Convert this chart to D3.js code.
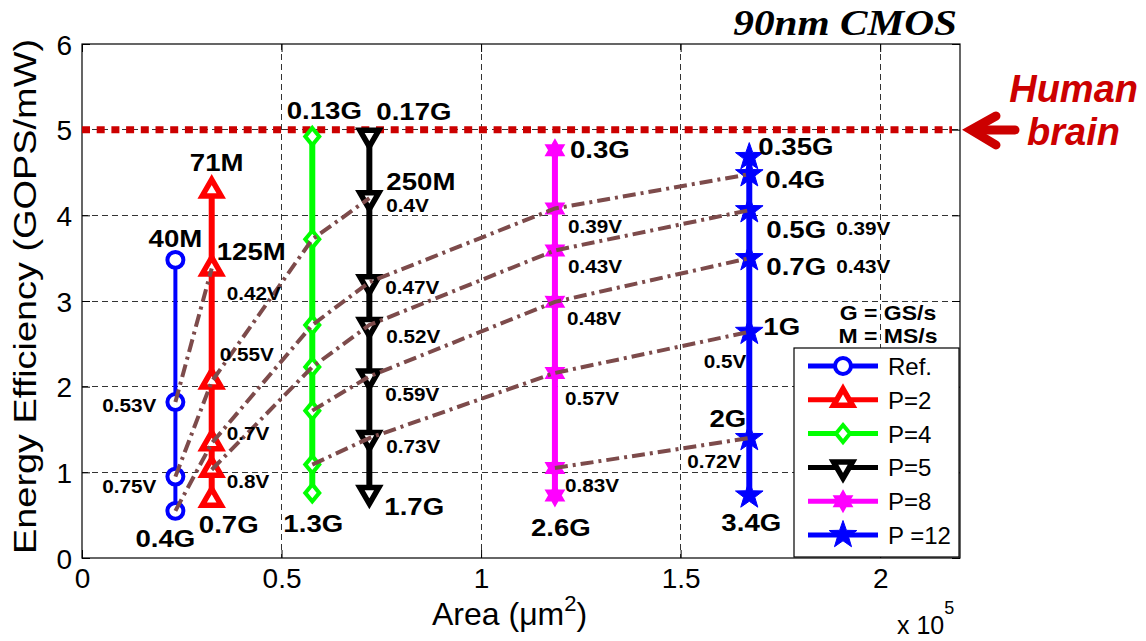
<!DOCTYPE html>
<html>
<head>
<meta charset="utf-8">
<script src="https://cdn.jsdelivr.net/npm/d3@7"></script>
<style>
  html, body { margin: 0; padding: 0; background: #fff; }
  svg { display: block; font-family: "Liberation Sans", Arial, Helvetica, sans-serif; }
</style>
</head>
<body>
<svg id="chart" width="1146" height="641"></svg>
<script>
// ---- data -------------------------------------------------------------
// Area of each design (um^2) and its energy-efficiency points (GOPS/mW)
const seriesNames = ["Ref.", "P=2", "P=4", "P=5", "P=8", "P =12"];
const seriesArea  = [23400, 32500, 57700, 72000, 118500, 167200];
const refEff  = [3.48, 1.82, 0.95, 0.55];
const p2Eff   = [4.29, 3.38, 2.06, 1.34, 1.03, 0.68];
const p4Eff   = [4.92, 3.72, 2.72, 2.23, 1.72, 1.09, 0.76];
const p5Eff   = [4.93, 4.20, 3.22, 2.72, 2.12, 1.40, 0.76];
const p8Eff   = [4.76, 4.08, 3.59, 2.99, 2.16, 1.05, 0.73];
const p12Eff  = [4.68, 4.48, 4.06, 3.50, 2.64, 1.40, 0.73];
const seriesEff = [refEff, p2Eff, p4Eff, p5Eff, p8Eff, p12Eff];

// Iso-voltage links: [series index, point index] pairs
const voltageLinks = [
  [[0,1],[1,1]],
  [[0,2],[1,2],[2,1],[3,1]],
  [[0,3],[1,3],[2,2],[3,2],[4,1],[5,1]],
  [[1,4],[2,3],[3,3],[4,2],[5,2]],
  [[2,4],[3,4],[4,3],[5,3]],
  [[2,5],[3,5],[4,4],[5,4]],
  [[4,5],[5,5]]
];

const humanBrainEff = 5;
const xTicks = [0, 0.5, 1, 1.5, 2];
const yTicks = [0, 1, 2, 3, 4, 5, 6];

// Throughput / supply-voltage annotations: [series, point, text]
const rateLabels = [
  [0,0,"40M"], [0,3,"0.4G"],
  [1,0,"71M"], [1,1,"125M"], [1,5,"0.7G"],
  [2,0,"0.13G"], [2,6,"1.3G"],
  [3,0,"0.17G"], [3,1,"250M"], [3,6,"1.7G"],
  [4,0,"0.3G"], [4,6,"2.6G"],
  [5,0,"0.35G"], [5,1,"0.4G"], [5,2,"0.5G"], [5,3,"0.7G"], [5,4,"1G"], [5,5,"2G"], [5,6,"3.4G"]
];
const voltLabels = [
  [0,1,"0.53V"], [0,2,"0.75V"],
  [1,1,"0.42V"], [1,2,"0.55V"], [1,3,"0.7V"], [1,4,"0.8V"],
  [3,1,"0.4V"], [3,2,"0.47V"], [3,3,"0.52V"], [3,4,"0.59V"], [3,5,"0.73V"],
  [4,1,"0.39V"], [4,2,"0.43V"], [4,3,"0.48V"], [4,4,"0.57V"], [4,5,"0.83V"],
  [5,2,"0.39V"], [5,3,"0.43V"], [5,4,"0.5V"], [5,5,"0.72V"]
];

// ---- layout -------------------------------------------------------------
// pixel offsets of each annotation from its point: [dx, dy, anchor]
const rateOffsets = [
  [0,-13,"middle"], [-10,36,"middle"],
  [5,-19,"middle"], [5,-8,"start"], [17,33,"middle"],
  [12,-18,"middle"], [1,39,"middle"],
  [7,-16,"start"], [17,-8,"start"], [15,22,"start"],
  [15,8,"start"], [6,41,"middle"],
  [9,-2,"start"], [16,14,"start"], [17,28,"start"], [17,17,"start"], [14,3,"start"], [-3,-11,"end"], [2,36,"middle"]
];
const voltOffsets = [
  [-19,10,"end"], [-19,16,"end"],
  [15,32,"start"], [8,-21,"start"], [15,-3,"start"], [15,18,"start"],
  [17,14,"start"], [16,12,"start"], [17,18,"start"], [16,25,"start"], [17,15,"start"],
  [13,25,"start"], [13,23,"start"], [12,23,"start"], [10,32,"start"], [10,24,"start"],
  [87,25,"start"], [87,15,"start"], [-3,36,"end"], [-8,30,"end"]
];

const plot = { left: 82, right: 960, top: 44, bottom: 558 };
const colors = ["#0000ff", "#ff0000", "#00ff00", "#000000", "#ff00ff", "#0000ff"];
const lineWidths = [4, 6, 6, 6, 6, 6];
const linkColor = "#7d4b4b";
const brainRed = "#cc0000";

const svg = d3.select("#chart");
const x = d3.scaleLinear().domain([0, 220000]).range([plot.left, plot.right]);
const y = d3.scaleLinear().domain([0, 6]).range([plot.bottom, plot.top]);

// ---- marker shapes --------------------------------------------------------
function starPath(n, R, r, rot) {
  const pts = [];
  for (let i = 0; i < 2 * n; i++) {
    const a = rot + i * Math.PI / n;
    const rad = i % 2 === 0 ? R : r;
    pts.push([rad * Math.sin(a), -rad * Math.cos(a)]);
  }
  return "M" + pts.map(p => p[0].toFixed(2) + "," + p[1].toFixed(2)).join("L") + "Z";
}
function triPath(s, down) {
  const h = s * Math.sqrt(3) / 2, k = down ? -1 : 1;
  return `M0,${-k * h * 2 / 3}L${s / 2},${k * h / 3}L${-s / 2},${k * h / 3}Z`;
}
const markers = [
  { d: d3.symbol(d3.symbolCircle, 200)(), fill: "#fff", sw: 4 },
  { d: triPath(19, false), fill: "#fff", sw: 5.5 },
  { d: "M0,-8.5L7,0L0,8.5L-7,0Z", fill: "#fff", sw: 4 },
  { d: triPath(19, true), fill: "#fff", sw: 5.5 },
  { d: starPath(6, 10.5, 6, 0), fill: null, sw: 1.5 },
  { d: starPath(5, 14.5, 5.8, 0), fill: null, sw: 1 }
];

// ---- grid -----------------------------------------------------------------
const grid = svg.append("g").attr("stroke", "#333").attr("stroke-width", 1)
  .attr("stroke-dasharray", "6,4").attr("shape-rendering", "crispEdges");
xTicks.filter(t => t > 0).forEach(t => {
  grid.append("line").attr("x1", x(t * 1e5)).attr("x2", x(t * 1e5))
    .attr("y1", plot.top).attr("y2", plot.bottom);
});
yTicks.filter(t => t > 0 && t < 6).forEach(t => {
  grid.append("line").attr("x1", plot.left).attr("x2", plot.right)
    .attr("y1", y(t)).attr("y2", y(t));
});

// ---- axes -----------------------------------------------------------------
const xAxis = d3.axisBottom(x).tickValues(xTicks.map(t => t * 1e5))
  .tickFormat(d => d3.format("")(d / 1e5)).tickSizeInner(-8).tickSizeOuter(0);
const yAxis = d3.axisLeft(y).tickValues(yTicks).tickFormat(d3.format("d"))
  .tickSizeInner(-8).tickSizeOuter(0);
const gx = svg.append("g").attr("transform", `translate(0,${plot.bottom})`).call(xAxis);
const gy = svg.append("g").attr("transform", `translate(${plot.left},0)`).call(yAxis);
[gx, gy].forEach(g => {
  g.select(".domain").remove();
  g.selectAll("text").attr("font-size", 28).attr("fill", "#000")
    .attr("font-family", "Liberation Sans, Arial, sans-serif");
  g.selectAll("line").attr("stroke", "#000");
});
gx.selectAll("text").attr("dy", null).attr("y", 30);
gy.selectAll("text").attr("dy", "0.36em").attr("x", -10);
// mirrored ticks on top and right
const gxTop = svg.append("g").attr("transform", `translate(0,${plot.top})`)
  .call(d3.axisTop(x).tickValues(xTicks.map(t => t * 1e5)).tickSizeInner(-8).tickSizeOuter(0).tickFormat(""));
const gyRight = svg.append("g").attr("transform", `translate(${plot.right},0)`)
  .call(d3.axisRight(y).tickValues(yTicks).tickSizeInner(-8).tickSizeOuter(0).tickFormat(""));
[gxTop, gyRight].forEach(g => { g.select(".domain").remove(); g.selectAll("line").attr("stroke", "#000"); });

svg.append("rect").attr("x", plot.left).attr("y", plot.top)
  .attr("width", plot.right - plot.left).attr("height", plot.bottom - plot.top)
  .attr("fill", "none").attr("stroke", "#000").attr("stroke-width", 1.2);

// axis titles
svg.append("text").attr("transform", `translate(36,${(38 + 555) / 2}) rotate(-90)`)
  .attr("text-anchor", "middle").attr("font-size", 31)
  .attr("textLength", 515).attr("lengthAdjust", "spacingAndGlyphs")
  .text("Energy Efficiency (GOPS/mW)");
const xt = svg.append("text").attr("x", 432).attr("y", 625).attr("font-size", 32);
xt.append("tspan").text("Area (\u03bcm");
xt.append("tspan").attr("font-size", 22).attr("dy", -14).text("2");
xt.append("tspan").attr("dy", 14).text(")");
const xs = svg.append("text").attr("x", 897).attr("y", 634).attr("font-size", 25);
xs.append("tspan").text("x 10");
xs.append("tspan").attr("font-size", 18).attr("dy", -20).text("5");

// ---- human brain reference line --------------------------------------------
svg.append("line").attr("x1", plot.left).attr("x2", 952)
  .attr("y1", y(humanBrainEff)).attr("y2", y(humanBrainEff))
  .attr("stroke", brainRed).attr("stroke-width", 7).attr("stroke-dasharray", "8,6.7");

// ---- series lines & markers ------------------------------------------------
const lineGen = d3.line().x(d => d[0]).y(d => d[1]);
seriesEff.forEach((vals, i) => {
  const pts = vals.map(v => [x(seriesArea[i]), y(v)]);
  svg.append("path").attr("d", lineGen(pts)).attr("fill", "none")
    .attr("stroke", colors[i]).attr("stroke-width", lineWidths[i]);
});
seriesEff.forEach((vals, i) => {
  const m = markers[i];
  svg.append("g").selectAll("path").data(vals).join("path")
    .attr("transform", v => `translate(${x(seriesArea[i])},${y(v)})`)
    .attr("d", m.d).attr("fill", m.fill || colors[i])
    .attr("stroke", colors[i]).attr("stroke-width", m.sw).attr("stroke-linejoin", "miter");
});

// ---- iso-voltage dash-dot links ---------------------------------------------
voltageLinks.forEach(link => {
  const pts = link.map(([s, p]) => [x(seriesArea[s]), y(seriesEff[s][p])]);
  svg.append("path").attr("d", lineGen(pts)).attr("fill", "none")
    .attr("stroke", linkColor).attr("stroke-width", 4)
    .attr("stroke-dasharray", "13,5,3,5");
});

// ---- annotations --------------------------------------------------------------
function annotate(list, offsets, size) {
  list.forEach(([s, p, txt], k) => {
    const [dx, dy, anchor] = offsets[k];
    const px = x(seriesArea[s]) + dx, py = y(seriesEff[s][p]) + dy;
    svg.append("text").attr("transform", `translate(${px},${py}) scale(1.15,1)`)
      .attr("text-anchor", anchor).attr("font-size", size).attr("font-weight", "bold")
      .attr("fill", "#000").text(txt);
  });
}
annotate(rateLabels, rateOffsets, 24);
annotate(voltLabels, voltOffsets, 18);

// title
svg.append("text").attr("transform", "translate(957,35) scale(1.18,1)")
  .attr("text-anchor", "end").attr("font-family", "Liberation Serif, Times New Roman, serif")
  .attr("font-style", "italic").attr("font-weight", "bold").attr("font-size", 35)
  .text("90nm CMOS");

// human brain marker outside the axes
svg.append("line").attr("x1", 974).attr("x2", 1015).attr("y1", 130).attr("y2", 130)
  .attr("stroke", brainRed).attr("stroke-width", 9).attr("stroke-linecap", "round");
svg.append("path").attr("d", "M996,116L971,130L996,145").attr("fill", "none")
  .attr("stroke", brainRed).attr("stroke-width", 9)
  .attr("stroke-linecap", "round").attr("stroke-linejoin", "miter");
svg.append("text").attr("x", 1138).attr("y", 102).attr("text-anchor", "end")
  .attr("fill", brainRed).attr("font-size", 38).attr("font-weight", "bold").attr("font-style", "italic")
  .text("Human");
svg.append("text").attr("x", 1120).attr("y", 145).attr("text-anchor", "end")
  .attr("fill", brainRed).attr("font-size", 38).attr("font-weight", "bold").attr("font-style", "italic")
  .text("brain");

// unit note
["G = GS/s", "M = MS/s"].forEach((t, i) => {
  svg.append("text").attr("transform", `translate(888,${320 + i * 23}) scale(1.15,1)`)
    .attr("text-anchor", "middle").attr("font-size", 20).attr("font-weight", "bold").text(t);
});

// ---- legend --------------------------------------------------------------------
const lg = svg.append("g");
lg.append("rect").attr("x", 794).attr("y", 348).attr("width", 165).attr("height", 209)
  .attr("fill", "#fff").attr("stroke", "#000").attr("stroke-width", 1.2);
seriesNames.forEach((name, i) => {
  const ry = 366 + i * 33.8;
  lg.append("line").attr("x1", 808).attr("x2", 878).attr("y1", ry).attr("y2", ry)
    .attr("stroke", colors[i]).attr("stroke-width", 5);
  const m = markers[i];
  lg.append("path").attr("transform", `translate(843,${ry})`).attr("d", m.d)
    .attr("fill", m.fill || colors[i]).attr("stroke", colors[i]).attr("stroke-width", m.sw);
  lg.append("text").attr("x", 888).attr("y", ry + 9).attr("font-size", 24).text(name);
});
</script>
</body>
</html>
